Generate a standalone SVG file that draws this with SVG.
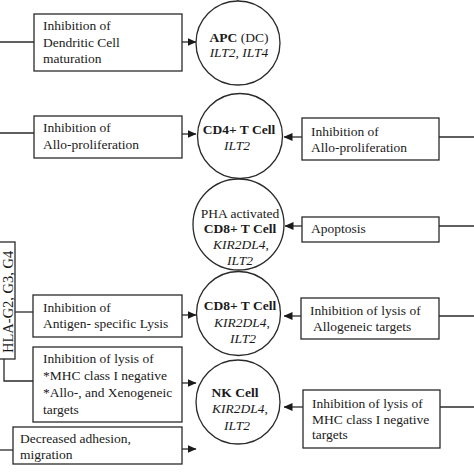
<svg xmlns="http://www.w3.org/2000/svg" width="474" height="474" viewBox="0 0 474 474">
<defs>
<style>
text{font-family:"Liberation Serif","Times New Roman",serif;font-size:13.5px;fill:#1a1a1a}
.b{font-weight:bold}
.i{font-style:italic}
.box{fill:#fff;stroke:#2a2a2a;stroke-width:1.3}
.node{fill:#fff;stroke:#2a2a2a;stroke-width:1.3}
.ln{fill:none;stroke:#2a2a2a;stroke-width:1.3}
.c{text-anchor:middle}
</style>
<marker id="ah" markerWidth="9" markerHeight="8" refX="8.5" refY="4" orient="auto" markerUnits="userSpaceOnUse">
<path d="M0,0 L9,4 L0,8 Z" fill="#1a1a1a"/>
</marker>
</defs>
<rect width="474" height="474" fill="#fff"/>

<g id="connectors">
<line class="ln" x1="238" y1="0" x2="238" y2="2"/>
<line class="ln" x1="0" y1="42" x2="34" y2="42"/>
<line class="ln" x1="182" y1="42" x2="196" y2="42" marker-end="url(#ah)"/>
<line class="ln" x1="0" y1="133" x2="34" y2="133"/>
<line class="ln" x1="182" y1="134" x2="196" y2="134" marker-end="url(#ah)"/>
<line class="ln" x1="474" y1="137" x2="439" y2="137"/>
<line class="ln" x1="302" y1="137" x2="284" y2="137" marker-end="url(#ah)"/>
<line class="ln" x1="474" y1="226" x2="439" y2="226"/>
<line class="ln" x1="302" y1="226" x2="285" y2="226" marker-end="url(#ah)"/>
<line class="ln" x1="15" y1="312" x2="33" y2="312"/>
<polyline class="ln" points="4,359 4,381 33,381"/>
<line class="ln" x1="182" y1="315" x2="196" y2="315" marker-end="url(#ah)"/>
<line class="ln" x1="182" y1="383" x2="196" y2="383" marker-end="url(#ah)"/>
<line class="ln" x1="0" y1="450" x2="13" y2="450"/>
<line class="ln" x1="182" y1="449" x2="196" y2="449" marker-end="url(#ah)"/>
<line class="ln" x1="474" y1="316" x2="439" y2="316"/>
<line class="ln" x1="301" y1="316" x2="284" y2="316" marker-end="url(#ah)"/>
<line class="ln" x1="474" y1="407" x2="440" y2="407"/>
<line class="ln" x1="303" y1="407" x2="284" y2="407" marker-end="url(#ah)"/>
</g>

<g id="hla">
<rect class="box" x="-10" y="242" width="25" height="117"/>
<text transform="translate(12.5,353) rotate(-90)" style="font-size:14.5px">HLA-G2, G3, G4</text>
</g>

<g id="box-dc">
<rect class="box" x="34" y="14" width="148" height="57"/>
<text x="43" y="30">Inhibition of</text>
<text x="43" y="47">Dendritic Cell</text>
<text x="43" y="63">maturation</text>
</g>

<g id="box-allo-left">
<rect class="box" x="34" y="116" width="148" height="42"/>
<text x="43" y="132">Inhibition of</text>
<text x="43" y="149">Allo-proliferation</text>
</g>

<g id="box-antigen">
<rect class="box" x="33" y="295" width="149" height="42"/>
<text x="43" y="312">Inhibition of</text>
<text x="43" y="328">Antigen- specific Lysis</text>
</g>

<g id="box-lysis-left">
<rect class="box" x="33" y="347" width="149" height="75"/>
<text x="43" y="363">Inhibition of lysis of</text>
<text x="43" y="380">*MHC class I negative</text>
<text x="43" y="397">*Allo-, and Xenogeneic</text>
<text x="43" y="414">targets</text>
</g>

<g id="box-adhesion">
<rect class="box" x="13" y="427" width="169" height="37"/>
<text x="20" y="443">Decreased adhesion,</text>
<text x="20" y="459">migration</text>
</g>

<g id="node-apc">
<circle class="node" cx="238" cy="43" r="42"/>
<text class="c" x="239" y="42"><tspan class="b">APC</tspan> (DC)</text>
<text class="c i" x="239" y="57">ILT2, ILT4</text>
</g>

<g id="node-cd4">
<circle class="node" cx="240" cy="136" r="42.5"/>
<text class="c b" x="239" y="134">CD4+ T Cell</text>
<text class="c i" x="237" y="150">ILT2</text>
</g>

<g id="node-pha">
<circle class="node" cx="238.5" cy="224.5" r="45.5"/>
<text class="c" x="240" y="218">PHA activated</text>
<text class="c b" x="240" y="233">CD8+ T Cell</text>
<text class="c" x="241" y="249"><tspan class="i">KIR2DL4</tspan>,</text>
<text class="c i" x="240" y="265">ILT2</text>
</g>

<g id="node-cd8">
<circle class="node" cx="238.5" cy="313.5" r="42"/>
<text class="c b" x="240" y="310">CD8+ T Cell</text>
<text class="c" x="242" y="327"><tspan class="i">KIR2DL4</tspan>,</text>
<text class="c i" x="243" y="343">ILT2</text>
</g>

<g id="node-nk">
<circle class="node" cx="238" cy="402" r="42"/>
<text class="c b" x="235" y="397">NK Cell</text>
<text class="c" x="240" y="413"><tspan class="i">KIR2DL4</tspan>,</text>
<text class="c i" x="237" y="430">ILT2</text>
</g>

<g id="box-allo-right">
<rect class="box" x="302" y="118" width="137" height="42"/>
<text x="311" y="136">Inhibition of</text>
<text x="311" y="152">Allo-proliferation</text>
</g>

<g id="box-apoptosis">
<rect class="box" x="302" y="217" width="137" height="25"/>
<text x="311" y="233">Apoptosis</text>
</g>

<g id="box-allogeneic">
<rect class="box" x="301" y="298" width="138" height="41"/>
<text x="310" y="315">Inhibition of lysis of</text>
<text x="313" y="331">Allogeneic targets</text>
</g>

<g id="box-mhc-right">
<rect class="box" x="303" y="390" width="137" height="58"/>
<text x="312" y="408">Inhibition of lysis of</text>
<text x="312" y="424">MHC class I negative</text>
<text x="312" y="439">targets</text>
</g>
</svg>
